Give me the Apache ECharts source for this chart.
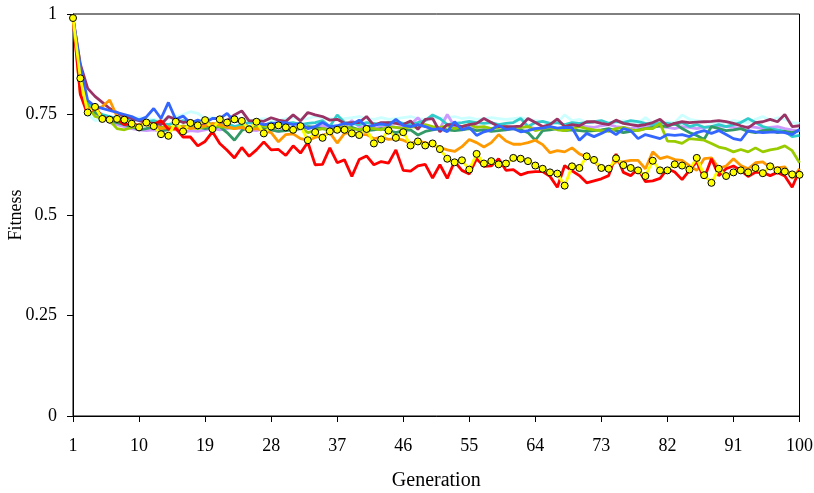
<!DOCTYPE html>
<html>
<head>
<meta charset="utf-8">
<script src="https://cdn.jsdelivr.net/npm/echarts@6/dist/echarts.min.js"></script>
<style>
  html, body { margin: 0; padding: 0; background: #fff; }
  #chart { width: 814px; height: 493px; }
</style>
</head>
<body>
<div id="chart"></div>
<script>
// Generations 1..100
const generations = [];
for (let g = 1; g <= 100; g++) generations.push(String(g));

const yTicks = [0, 0.25, 0.5, 0.75, 1];

// Best fitness per generation for each run
const runYellow = [
  0.99, 0.84, 0.755, 0.769, 0.739, 0.737, 0.739, 0.737, 0.727, 0.718,
  0.730, 0.721, 0.701, 0.697, 0.732, 0.708, 0.729, 0.723, 0.736, 0.714,
  0.738, 0.730, 0.738, 0.734, 0.713, 0.732, 0.703, 0.720, 0.723, 0.718,
  0.712, 0.721, 0.686, 0.706, 0.692, 0.708, 0.712, 0.712, 0.703, 0.699,
  0.714, 0.678, 0.688, 0.710, 0.692, 0.706, 0.673, 0.683, 0.673, 0.678,
  0.664, 0.640, 0.631, 0.636, 0.613, 0.652, 0.628, 0.634, 0.626, 0.628,
  0.642, 0.640, 0.634, 0.623, 0.615, 0.606, 0.603, 0.573, 0.621, 0.617,
  0.646, 0.637, 0.617, 0.615, 0.641, 0.624, 0.617, 0.611, 0.597, 0.635,
  0.611, 0.611, 0.626, 0.623, 0.613, 0.642, 0.599, 0.580, 0.615, 0.597,
  0.606, 0.611, 0.606, 0.617, 0.604, 0.621, 0.611, 0.608, 0.601, 0.600
];

const runRed = [
  0.99, 0.80, 0.749, 0.770, 0.742, 0.740, 0.738, 0.725, 0.728, 0.722,
  0.728, 0.725, 0.735, 0.713, 0.716, 0.694, 0.694, 0.672, 0.683, 0.707,
  0.678, 0.661, 0.642, 0.668, 0.646, 0.662, 0.682, 0.662, 0.663, 0.648,
  0.672, 0.654, 0.681, 0.625, 0.626, 0.667, 0.630, 0.637, 0.596, 0.638,
  0.647, 0.625, 0.633, 0.629, 0.662, 0.611, 0.609, 0.622, 0.626, 0.592,
  0.625, 0.591, 0.633, 0.611, 0.602, 0.640, 0.621, 0.622, 0.640, 0.611,
  0.613, 0.600, 0.606, 0.608, 0.608, 0.596, 0.569, 0.623, 0.610, 0.598,
  0.580, 0.585, 0.590, 0.598, 0.652, 0.606, 0.598, 0.615, 0.583, 0.585,
  0.591, 0.615, 0.607, 0.588, 0.611, 0.633, 0.591, 0.640, 0.598, 0.615,
  0.622, 0.611, 0.596, 0.606, 0.606, 0.598, 0.606, 0.597, 0.569, 0.611
];

const runOrange = [
  0.99, 0.80, 0.765, 0.762, 0.770, 0.786, 0.745, 0.735, 0.722, 0.725,
  0.725, 0.722, 0.715, 0.718, 0.712, 0.720, 0.715, 0.718, 0.722, 0.728,
  0.725, 0.720, 0.715, 0.718, 0.712, 0.715, 0.710, 0.705, 0.682, 0.700,
  0.702, 0.690, 0.686, 0.693, 0.698, 0.705, 0.679, 0.703, 0.705, 0.700,
  0.700, 0.690, 0.693, 0.688, 0.690, 0.686, 0.678, 0.683, 0.680, 0.673,
  0.668, 0.662, 0.658, 0.670, 0.688, 0.680, 0.669, 0.680, 0.700, 0.684,
  0.676, 0.676, 0.680, 0.686, 0.675, 0.655, 0.660, 0.657, 0.667, 0.652,
  0.644, 0.633, 0.615, 0.619, 0.632, 0.633, 0.636, 0.636, 0.615, 0.657,
  0.640, 0.645, 0.638, 0.636, 0.623, 0.611, 0.640, 0.642, 0.616, 0.622,
  0.640, 0.623, 0.615, 0.630, 0.632, 0.618, 0.617, 0.620, 0.591, 0.615
];

const runLime = [
  0.99, 0.83, 0.77, 0.745, 0.74, 0.735, 0.715, 0.712, 0.718, 0.722,
  0.725, 0.72, 0.718, 0.72, 0.715, 0.722, 0.718, 0.715, 0.72, 0.725,
  0.72, 0.718, 0.715, 0.72, 0.712, 0.718, 0.722, 0.715, 0.72, 0.718,
  0.715, 0.718, 0.705, 0.71, 0.715, 0.712, 0.718, 0.72, 0.715, 0.712,
  0.718, 0.715, 0.712, 0.72, 0.718, 0.715, 0.72, 0.718, 0.725, 0.72,
  0.718, 0.722, 0.715, 0.72, 0.725, 0.718, 0.72, 0.715, 0.718, 0.72,
  0.715, 0.718, 0.72, 0.71, 0.715, 0.718, 0.712, 0.71, 0.715, 0.72,
  0.715, 0.712, 0.71, 0.708, 0.715, 0.718, 0.712, 0.71, 0.715, 0.715,
  0.728, 0.684, 0.683, 0.678, 0.69, 0.688, 0.686, 0.678, 0.669, 0.665,
  0.657, 0.663, 0.657, 0.667, 0.657, 0.662, 0.665, 0.672, 0.66, 0.630
];

const runPlum = [
  0.99, 0.875, 0.815, 0.795, 0.78, 0.765, 0.755, 0.745, 0.74, 0.735,
  0.73, 0.728, 0.725, 0.745, 0.738, 0.73, 0.735, 0.728, 0.725, 0.72,
  0.73, 0.735, 0.749, 0.759, 0.734, 0.735, 0.733, 0.742, 0.736, 0.733,
  0.749, 0.734, 0.755, 0.749, 0.745, 0.736, 0.738, 0.728, 0.73, 0.73,
  0.745, 0.723, 0.73, 0.73, 0.728, 0.725, 0.734, 0.713, 0.738, 0.740,
  0.707, 0.725, 0.724, 0.72, 0.725, 0.728, 0.740, 0.73, 0.72, 0.72,
  0.72, 0.721, 0.74, 0.73, 0.72, 0.725, 0.739, 0.72, 0.725, 0.722,
  0.732, 0.732, 0.728, 0.725, 0.736, 0.728, 0.725, 0.722, 0.725, 0.73,
  0.738, 0.722, 0.728, 0.732, 0.73, 0.731, 0.732, 0.733, 0.735, 0.732,
  0.728, 0.722, 0.717, 0.73, 0.732, 0.738, 0.732, 0.75, 0.72, 0.722
];

const runBlue = [
  0.99, 0.87, 0.785, 0.77, 0.765, 0.76, 0.755, 0.75, 0.745, 0.736,
  0.744, 0.765, 0.74, 0.78, 0.738, 0.746, 0.728, 0.736, 0.73, 0.74,
  0.74, 0.753, 0.732, 0.735, 0.715, 0.73, 0.725, 0.727, 0.73, 0.73,
  0.725, 0.728, 0.715, 0.72, 0.73, 0.72, 0.722, 0.728, 0.725, 0.736,
  0.72, 0.723, 0.727, 0.723, 0.738, 0.723, 0.72, 0.725, 0.72, 0.713,
  0.715, 0.707, 0.732, 0.712, 0.718, 0.698, 0.707, 0.712, 0.723, 0.713,
  0.715, 0.707, 0.71, 0.715, 0.716, 0.72, 0.716, 0.718, 0.717, 0.686,
  0.703, 0.695, 0.703, 0.712, 0.70, 0.715, 0.71, 0.69, 0.70, 0.695,
  0.69, 0.70, 0.698, 0.70, 0.695, 0.705, 0.71, 0.703, 0.71, 0.70,
  0.69, 0.686, 0.71, 0.707, 0.705, 0.706, 0.707, 0.705, 0.70, 0.713
];

const runTeal = [
  0.99, 0.85, 0.78, 0.76, 0.75, 0.745, 0.74, 0.742, 0.735, 0.738,
  0.732, 0.735, 0.728, 0.725, 0.73, 0.735, 0.73, 0.728, 0.732, 0.725,
  0.73, 0.728, 0.72, 0.725, 0.73, 0.728, 0.722, 0.73, 0.725, 0.728,
  0.73, 0.725, 0.728, 0.73, 0.735, 0.72, 0.749, 0.73, 0.728, 0.725,
  0.73, 0.728, 0.725, 0.73, 0.732, 0.728, 0.725, 0.73, 0.735, 0.749,
  0.74, 0.725, 0.728, 0.73, 0.733, 0.73, 0.728, 0.73, 0.725, 0.728,
  0.73, 0.74, 0.72, 0.73, 0.733, 0.728, 0.73, 0.725, 0.73, 0.728,
  0.73, 0.732, 0.735, 0.728, 0.733, 0.73, 0.735, 0.732, 0.728, 0.725,
  0.73, 0.728, 0.725, 0.73, 0.72, 0.725, 0.718, 0.72, 0.725, 0.72,
  0.725, 0.73, 0.74, 0.73, 0.72, 0.715, 0.712, 0.708, 0.695, 0.698
];

const runIce = [
  0.99, 0.84, 0.75, 0.735, 0.737, 0.74, 0.745, 0.745, 0.74, 0.742,
  0.74, 0.738, 0.735, 0.74, 0.745, 0.75, 0.757, 0.753, 0.74, 0.742,
  0.738, 0.735, 0.74, 0.738, 0.735, 0.737, 0.74, 0.738, 0.735, 0.74,
  0.742, 0.738, 0.74, 0.745, 0.742, 0.74, 0.738, 0.74, 0.742, 0.745,
  0.74, 0.738, 0.742, 0.738, 0.74, 0.742, 0.745, 0.74, 0.738, 0.742,
  0.74, 0.742, 0.745, 0.74, 0.742, 0.738, 0.74, 0.742, 0.74, 0.738,
  0.74, 0.742, 0.738, 0.735, 0.732, 0.728, 0.73, 0.749, 0.735, 0.738,
  0.73, 0.732, 0.73, 0.728, 0.73, 0.735, 0.73, 0.728, 0.742, 0.728,
  0.73, 0.732, 0.73, 0.749, 0.738, 0.735, 0.732, 0.73, 0.728, 0.73,
  0.735, 0.732, 0.73, 0.738, 0.745, 0.735, 0.742, 0.738, 0.73, 0.728
];

const runLavender = [
  0.99, 0.83, 0.765, 0.75, 0.745, 0.73, 0.725, 0.72, 0.715, 0.712,
  0.71, 0.712, 0.708, 0.715, 0.712, 0.705, 0.71, 0.708, 0.712, 0.715,
  0.712, 0.715, 0.718, 0.715, 0.712, 0.71, 0.715, 0.712, 0.708, 0.715,
  0.712, 0.715, 0.718, 0.72, 0.722, 0.715, 0.718, 0.72, 0.735, 0.72,
  0.718, 0.715, 0.72, 0.722, 0.718, 0.72, 0.725, 0.742, 0.72, 0.718,
  0.715, 0.75, 0.72, 0.718, 0.715, 0.72, 0.718, 0.715, 0.72, 0.718,
  0.715, 0.718, 0.72, 0.715, 0.718, 0.72, 0.715, 0.718, 0.72, 0.722,
  0.72, 0.718, 0.722, 0.725, 0.72, 0.718, 0.715, 0.72, 0.718, 0.722,
  0.72, 0.718, 0.715, 0.72, 0.718, 0.715, 0.718, 0.72, 0.722, 0.72,
  0.718, 0.715, 0.72, 0.718, 0.715, 0.718, 0.72, 0.715, 0.712, 0.71
];

const runSea = [
  0.99, 0.845, 0.77, 0.755, 0.745, 0.735, 0.73, 0.725, 0.72, 0.712,
  0.715, 0.72, 0.71, 0.712, 0.718, 0.715, 0.725, 0.72, 0.715, 0.718,
  0.72, 0.705, 0.686, 0.71, 0.72, 0.718, 0.715, 0.712, 0.708, 0.71,
  0.712, 0.715, 0.72, 0.718, 0.715, 0.712, 0.71, 0.715, 0.718, 0.712,
  0.71, 0.712, 0.715, 0.71, 0.705, 0.71, 0.712, 0.699, 0.708, 0.712,
  0.715, 0.712, 0.71, 0.712, 0.715, 0.71, 0.712, 0.708, 0.71, 0.712,
  0.715, 0.712, 0.705, 0.686, 0.71, 0.712, 0.715, 0.71, 0.712, 0.71,
  0.708, 0.71, 0.712, 0.715, 0.71, 0.705, 0.708, 0.712, 0.715, 0.718,
  0.722, 0.72, 0.728, 0.715, 0.705, 0.698, 0.688, 0.72, 0.715, 0.71,
  0.712, 0.715, 0.708, 0.705, 0.71, 0.712, 0.705, 0.708, 0.705, 0.71
];

const lineRuns = [
  { data: runIce, color: '#CCFFFF' },
  { data: runLavender, color: '#CC99FF' },
  { data: runTeal, color: '#33CCCC' },
  { data: runSea, color: '#339966' },
  { data: runLime, color: '#99CC00' },
  { data: runPlum, color: '#993366' },
  { data: runOrange, color: '#FF9900' },
  { data: runBlue, color: '#3366FF' },
  { data: runRed, color: '#FF0000' }
];

const series = lineRuns.map(r => ({
  type: 'line',
  data: r.data,
  showSymbol: false,
  symbol: 'none',
  lineStyle: { color: r.color, width: 2.8 },
  itemStyle: { color: r.color },
  animation: false
}));

series.push({
  type: 'line',
  data: runYellow,
  symbol: 'circle',
  symbolSize: 7,
  showAllSymbol: true,
  lineStyle: { color: '#FFFF00', width: 2.8 },
  itemStyle: { color: '#FFFF00', borderColor: '#000000', borderWidth: 1 },
  animation: false
});

const serif = '"Liberation Serif", "Times New Roman", serif';

const chart = echarts.init(document.getElementById('chart'), null, { renderer: 'canvas' });
chart.setOption({
  animation: false,
  backgroundColor: '#ffffff',
  grid: {
    left: 73, right: 14.5, top: 14, bottom: 77,
    containLabel: false,
    outerBoundsMode: 'none',
    show: true, borderColor: '#000000', borderWidth: 1, backgroundColor: 'transparent'
  },
  xAxis: {
    type: 'category',
    data: generations,
    boundaryGap: false,
    name: 'Generation',
    nameLocation: 'middle',
    nameGap: 55,
    nameMoveOverlap: false,
    nameTextStyle: { fontFamily: serif, fontSize: 20, color: '#000' },
    axisLine: { lineStyle: { color: '#000', width: 1 } },
    axisTick: { show: true, interval: 8, length: 6, lineStyle: { color: '#000' } },
    axisLabel: { interval: 8, margin: 21, fontFamily: serif, fontSize: 18, color: '#000' },
    splitLine: { show: false }
  },
  yAxis: {
    type: 'value',
    min: yTicks[0],
    max: yTicks[yTicks.length - 1],
    interval: 0.25,
    name: 'Fitness',
    nameLocation: 'middle',
    nameGap: 48,
    nameMoveOverlap: false,
    nameTextStyle: { fontFamily: serif, fontSize: 18, color: '#000' },
    axisLine: { show: true, lineStyle: { color: '#000', width: 1 } },
    axisTick: { show: true, length: 6, lineStyle: { color: '#000' } },
    axisLabel: { margin: 16, fontFamily: serif, fontSize: 18, color: '#000',
      formatter: v => String(v) },
    splitLine: { show: false }
  },
  series: series
});
</script>
</body>
</html>
